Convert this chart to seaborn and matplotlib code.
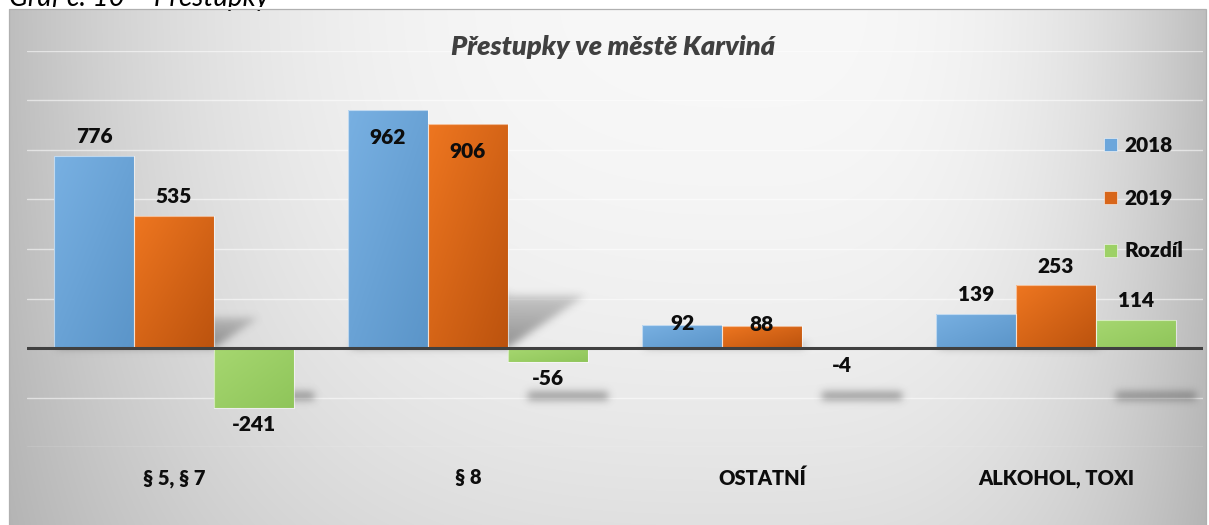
import numpy as np
import pandas as pd
import matplotlib
matplotlib.use("Agg")
import matplotlib.pyplot as plt
import seaborn as sns
from matplotlib.patches import Patch, Rectangle
from matplotlib.colors import LinearSegmentedColormap

# ---------------- data ----------------
categories = ["§ 5, § 7", "§ 8", "OSTATNÍ", "ALKOHOL, TOXI"]
series_names = ["2018", "2019", "Rozdíl"]
values_2018 = [776, 962, 92, 139]
values_2019 = [535, 906, 88, 253]
values_diff = [-241, -56, -4, 114]
grid_ticks = [-400, -200, 0, 200, 400, 600, 800, 1000, 1200]
title_text = "Přestupky ve městě Karviná"
caption_text = "Graf č. 10 – Přestupky"

# ---------------- style ----------------
W, H = 1209, 525
DPI = 100
sns.set_theme(style="white")
plt.rcParams["font.family"] = ["Lato", "DejaVu Sans"]
BOLD = 800

solid_colors = {"2018": "#6CA6DB", "2019": "#D8661A", "Rozdíl": "#9DD166"}
grad_colors = {
    "2018": ("#78B0E2", "#5B95C9"),
    "2019": ("#EE7620", "#BC530E"),
    "Rozdíl": ("#A6D770", "#8FC55A"),
}

fig = plt.figure(figsize=(W / DPI, H / DPI), dpi=DPI)
fig.patch.set_facecolor("white")

# ---- chart area background (radial-ish grey gradient) ----
left_px, top_px, right_px = 9, 9, 1206
bg = fig.add_axes([left_px / W, 0, (right_px - left_px) / W, (H - top_px) / H])
bw, bh = right_px - left_px, H - top_px
xx = np.arange(bw) + left_px
yy = np.arange(bh) + top_px
cx = 750
ux = np.where(xx < cx, (cx - xx) / 740.0, (xx - cx) / 455.0)
uy = yy / 525.0
X = ux[None, :]
Y = uy[:, None]
cval = 248 - 58 * X ** 3 - 24 * Y ** 2 * (1 - 0.6 * X ** 3)
cimg = np.clip(cval, 0, 255) / 255.0
bg.imshow(np.dstack([cimg] * 3), aspect="auto", extent=(0, 1, 0, 1),
          origin="upper", interpolation="bilinear")
bg.set_axis_off()
fig.add_artist(Rectangle((left_px / W, -0.01), (right_px - left_px) / W,
                         (H - top_px) / H + 0.01, transform=fig.transFigure,
                         fill=False, edgecolor="#b0b0b0", lw=0.9, zorder=10))

# ---- main axes ----
ax_left, ax_right, ax_top, ax_bottom = 27, 1203, 51, 447
ax = fig.add_axes([ax_left / W, (H - ax_bottom) / H,
                   (ax_right - ax_left) / W, (ax_bottom - ax_top) / H])
ax.patch.set_alpha(0)

rows = []
for s, vals in zip(series_names, [values_2018, values_2019, values_diff]):
    for c, v in zip(categories, vals):
        rows.append({"cat": c, "series": s, "val": v})
df = pd.DataFrame(rows)

sns.barplot(data=df, x="cat", y="val", hue="series", order=categories,
            hue_order=series_names, palette=solid_colors, width=0.816,
            gap=0, saturation=1, errorbar=None, legend=False, ax=ax,
            edgecolor=(1, 1, 1, 0.55), linewidth=0.8)

XMIN, XMAX, YMIN, YMAX = -0.5, 3.5, -400, 1200
axw_px = ax_right - ax_left
axh_px = ax_bottom - ax_top
px_x = axw_px / (XMAX - XMIN)
px_y = axh_px / (YMAX - YMIN)
zero_px = (0 - YMIN) * px_y

bars = [p for p in ax.patches if isinstance(p, Rectangle)]

# ---- shadows (blurred) ----
gx = np.arange(axw_px) + 0.5
gy = np.arange(axh_px) + 0.5
GX, GY = np.meshgrid(gx, gy)
shadow = np.zeros_like(GX)


def gblur(a, s):
    r = int(3 * s)
    k = np.exp(-0.5 * (np.arange(-r, r + 1) / s) ** 2)
    k /= k.sum()
    a = np.apply_along_axis(lambda v: np.convolve(v, k, mode="same"), 0, a)
    a = np.apply_along_axis(lambda v: np.convolve(v, k, mode="same"), 1, a)
    return a


for i, p in enumerate(bars):
    s = series_names[i // len(categories)]
    val = p.get_height()
    xl = (p.get_x() - XMIN) * px_x
    xr = (p.get_x() + p.get_width() - XMIN) * px_x
    if s in ("2018", "2019") and val > 0:
        hp = val * px_y
        dx, dy = 0.34 * hp, 0.23 * hp
        t = (GY - zero_px) / dy
        inside = (t >= 0) & (t <= 1) & (GX >= xl + t * dx) & (GX <= xr + t * dx)
        shadow = np.maximum(shadow, np.where(inside, 0.6 * (1 - 0.55 * t), 0))
    elif s == "Rozdíl":
        yc = zero_px - 48
        inside = (np.abs(GY - yc) <= 3.5) & (GX >= xl + 20) & (GX <= xr + 20)
        shadow = np.maximum(shadow, np.where(inside, 0.55, 0))

shadow = gblur(shadow, 4.0)
rgba = np.zeros(shadow.shape + (4,))
rgba[..., :3] = 0.33
rgba[..., 3] = np.clip(shadow, 0, 1)
ax.imshow(rgba, extent=(XMIN, XMAX, YMIN, YMAX), origin="lower",
          aspect="auto", zorder=0.8, interpolation="bilinear")

# ---- bar gradients ----
n = 64
u = np.linspace(0, 1, n)
U, V = np.meshgrid(u, u)  # V: 0 bottom -> 1 top (origin lower)
T = (U + (1 - V)) / 2
for i, p in enumerate(bars):
    s = series_names[i // len(categories)]
    cm = LinearSegmentedColormap.from_list("g" + s, list(grad_colors[s]))
    x0 = p.get_x()
    w = p.get_width()
    y0 = min(p.get_y(), p.get_y() + p.get_height())
    h = abs(p.get_height())
    im = ax.imshow(T, cmap=cm, vmin=0, vmax=1, extent=(x0, x0 + w, y0, y0 + h),
                   origin="lower", aspect="auto", zorder=0.95,
                   interpolation="bilinear")
    im.set_clip_path(p)
    p.set_facecolor("none")
    p.set_zorder(1)

# ---- data labels ----
for i, p in enumerate(bars):
    val = p.get_height()
    xc = p.get_x() + p.get_width() / 2
    if val > 850:
        off = -28
    elif val >= 100:
        off = 19
    elif val > 0:
        off = 2
    else:
        off = -17
    ax.annotate(f"{int(round(val))}", xy=(xc, val), xytext=(0, off * 0.72),
                textcoords="offset points", ha="center", va="center",
                fontsize=15, fontweight=BOLD, color="#0d0d0d", zorder=6,
                annotation_clip=False)

# ---- axes styling ----
ax.axhline(0, color="#404040", lw=2.2, zorder=5)
ax.set_yticks(grid_ticks)
ax.yaxis.grid(True, color="white", alpha=0.55, lw=1.0)
ax.xaxis.grid(False)
ax.set_axisbelow(True)
ax.tick_params(length=0, labelbottom=False, labelleft=False)
ax.set_xlabel("")
ax.set_ylabel("")
for sp in ax.spines.values():
    sp.set_visible(False)
ax.set_xlim(XMIN, XMAX)
ax.set_ylim(YMIN, YMAX)

for i, c in enumerate(categories):
    ax.annotate(c, xy=(i, 0), xycoords=("data", "axes fraction"),
                xytext=(0, -31 * 0.72), textcoords="offset points",
                ha="center", va="center", fontsize=14.5, fontweight=BOLD,
                color="#0d0d0d", annotation_clip=False)

# ---- legend ----
handles = [Patch(facecolor=solid_colors[s], edgecolor=(1, 1, 1, 0.6), lw=0.6)
           for s in series_names]
leg = ax.legend(handles, series_names, loc="upper left",
                bbox_to_anchor=(1104 / W, 1 - 136 / H), bbox_transform=fig.transFigure,
                frameon=False, prop={"weight": BOLD, "size": 15},
                handlelength=0.6, handleheight=0.6, handletextpad=0.4,
                labelspacing=1.62, borderpad=0, borderaxespad=0)
for t in leg.get_texts():
    t.set_color("#0d0d0d")

# ---- titles ----
fig.text(613 / W, 1 - 47 / H, title_text, ha="center", va="center",
         fontsize=19.5, fontstyle="italic", fontweight=BOLD, color="#404040")
fig.text(9 / W, 1 - 6 / H, caption_text, ha="left", va="baseline",
         fontsize=20, fontstyle="italic", color="#000000")
# the chart frame overlaps the lower part of the caption
fig.add_artist(Rectangle((0, 1 - top_px / H), 1, 1.6 / H, transform=fig.transFigure,
                         facecolor="white", edgecolor="none", zorder=9))

fig.savefig("out.png", dpi=DPI)
